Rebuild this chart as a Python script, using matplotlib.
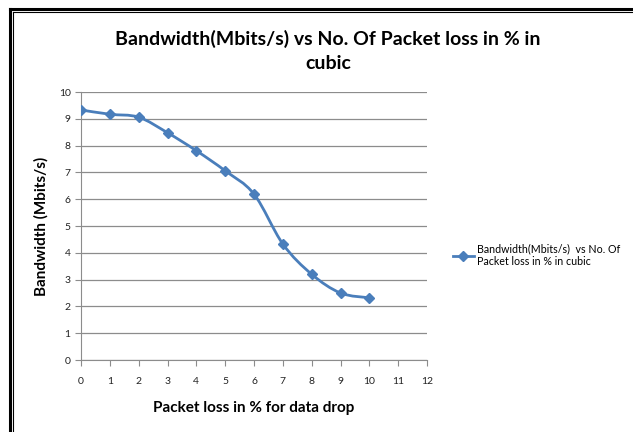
import numpy as np
import matplotlib
matplotlib.use("Agg")
import matplotlib.pyplot as plt
from matplotlib.path import Path
from matplotlib.patches import PathPatch
from matplotlib.lines import Line2D

# valori
packet_loss = [0, 1, 2, 3, 4, 5, 6, 7, 8, 9, 10]
bandwidth = [9.33, 9.17, 9.06, 8.48, 7.81, 7.06, 6.19, 4.33, 3.20, 2.50, 2.32]
x_ticks = list(range(0, 13))
y_ticks = list(range(0, 11))

blue = '#4a7ebb'
grid_col = '#8c8c8c'
plt.rcParams['font.family'] = ['Lato', 'DejaVu Sans']

fig = plt.figure(figsize=(6.33, 4.32), dpi=100)
ax = fig.add_axes([81/633, 1 - 360/432, 346/633, 268/432])

# linea smussata stile Excel (bezier tra i punti)
x = np.array(packet_loss, dtype=float)
y = np.array(bandwidth, dtype=float)
verts = [(x[0], y[0])]
codes = [Path.MOVETO]
t = 1/6
for i in range(len(x) - 1):
    x0, y0 = (x[i-1], y[i-1]) if i > 0 else (x[i], y[i])
    x3, y3 = (x[i+2], y[i+2]) if i + 2 < len(x) else (x[i+1], y[i+1])
    c1 = (x[i] + (x[i+1] - x0) * t, y[i] + (y[i+1] - y0) * t)
    c2 = (x[i+1] - (x3 - x[i]) * t, y[i+1] - (y3 - y[i]) * t)
    verts += [c1, c2, (x[i+1], y[i+1])]
    codes += [Path.CURVE4] * 3
ax.add_patch(PathPatch(Path(verts, codes), fill=False, edgecolor=blue, lw=2.0, zorder=3))
ax.plot(packet_loss, bandwidth, ls='none', marker='D', ms=5, color=blue, zorder=4)

ax.set_xlim(0, 12)
ax.set_ylim(0, 10)
ax.set_xticks(x_ticks)
ax.set_yticks(y_ticks)
ax.yaxis.grid(True, color=grid_col, lw=0.9)
ax.set_axisbelow(True)
for s in ['top', 'right']:
    ax.spines[s].set_visible(False)
for s in ['left', 'bottom']:
    ax.spines[s].set_color(grid_col)
ax.tick_params(axis='both', colors=grid_col, labelcolor='#222222', labelsize=7.5, length=4)
ax.tick_params(axis='x', pad=8)

ax.set_xlabel('Packet loss in % for data drop', fontsize=11, fontweight='bold', labelpad=11)
ax.set_ylabel('Bandwidth (Mbits/s)', fontsize=11, fontweight='bold', labelpad=7)

fig.text(328/633, 1 - 51/432, 'Bandwidth(Mbits/s) vs No. Of Packet loss in % in\ncubic',
         ha='center', va='center', fontsize=14, fontweight='bold', linespacing=1.45)

handle = Line2D([], [], color=blue, lw=2, marker='D', ms=5)
fig.legend([handle], ['Bandwidth(Mbits/s)  vs No. Of\nPacket loss in % in cubic'],
           loc='center left', bbox_to_anchor=(443/633, 1 - 255/432), frameon=False,
           fontsize=7.7, handlelength=2.0, handletextpad=0.3)

# cornice nera in alto e a sinistra
fig.add_artist(Line2D([10/633, 1], [1 - 9/432] * 2, color='black', lw=2.2))
fig.add_artist(Line2D([13/633, 1], [1 - 12/432] * 2, color='black', lw=0.8))
fig.add_artist(Line2D([10/633] * 2, [0, 1 - 9/432], color='black', lw=2.2))
fig.add_artist(Line2D([13/633] * 2, [0, 1 - 12/432], color='black', lw=0.8))

fig.savefig('out.png', dpi=100)
